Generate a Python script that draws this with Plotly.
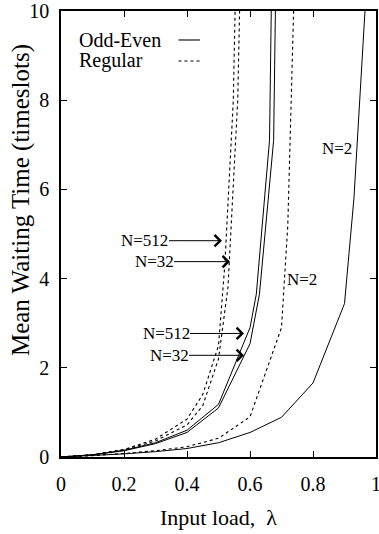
import plotly.graph_objects as go

# ---- data ----
lam_oe_2 = [0, 0.1, 0.2, 0.3, 0.4, 0.5, 0.6, 0.7, 0.8, 0.9, 0.93, 0.97]
wait_oe_2 = [0, 0.03, 0.07, 0.12, 0.19, 0.32, 0.55, 0.89, 1.66, 3.44, 5.8, 10.6]

lam_oe_32 = [0, 0.1, 0.2, 0.3, 0.4, 0.5, 0.6, 0.63, 0.675, 0.69]
wait_oe_32 = [0, 0.05, 0.14, 0.3, 0.55, 1.1, 2.54, 3.65, 7.1, 14.8]

lam_oe_512 = [0, 0.1, 0.2, 0.3, 0.4, 0.5, 0.6, 0.62, 0.662, 0.676]
wait_oe_512 = [0, 0.05, 0.15, 0.32, 0.6, 1.18, 2.9, 3.65, 7.1, 14.5]

lam_reg_2 = [0, 0.1, 0.2, 0.3, 0.4, 0.5, 0.6, 0.7, 0.72, 0.74]
wait_reg_2 = [0, 0.03, 0.08, 0.14, 0.23, 0.42, 0.9, 2.9, 5.2, 10.4]

lam_reg_32 = [0, 0.1, 0.2, 0.3, 0.4, 0.45, 0.5, 0.53, 0.561, 0.57]
wait_reg_32 = [0, 0.05, 0.16, 0.36, 0.72, 1.15, 2.2, 3.8, 8.0, 11.0]

lam_reg_512 = [0, 0.1, 0.2, 0.3, 0.4, 0.45, 0.5, 0.52, 0.547, 0.556]
wait_reg_512 = [0, 0.05, 0.17, 0.4, 0.85, 1.4, 2.5, 4.3, 8.0, 11.2]

x_ticks = [0, 0.2, 0.4, 0.6, 0.8, 1]
x_tick_labels = ["0", "0.2", "0.4", "0.6", "0.8", "1"]
y_ticks = [0, 2, 4, 6, 8, 10]
y_tick_labels = ["0", "2", "4", "6", "8", "10"]

legend_names = ["Odd-Even", "Regular"]

FONT = "Liberation Serif, Times New Roman, Times, serif"

fig = go.Figure()

solid = dict(color="black", width=1)
dotted = dict(color="black", width=1.1, dash="dot")

for lx, wy in [(lam_oe_2, wait_oe_2), (lam_oe_32, wait_oe_32), (lam_oe_512, wait_oe_512)]:
    fig.add_trace(go.Scatter(x=lx, y=wy, mode="lines", line=solid, showlegend=False))
for lx, wy in [(lam_reg_2, wait_reg_2), (lam_reg_32, wait_reg_32), (lam_reg_512, wait_reg_512)]:
    fig.add_trace(go.Scatter(x=lx, y=wy, mode="lines", line=dotted, showlegend=False))

# ---- arrow labels ----
arrow_labels = [
    ("N=512", 0.511, 4.85, -77),
    ("N=32", 0.5365, 4.38, -76),
    ("N=512", 0.581, 2.77, -78),
    ("N=32", 0.581, 2.28, -75),
]
for txt, x, y, ax in arrow_labels:
    fig.add_annotation(x=x, y=y, ax=ax, ay=0, xref="x", yref="y", text=txt,
                       showarrow=True, arrowhead=4, arrowsize=2.2, arrowwidth=1,
                       arrowcolor="black", font=dict(family=FONT, size=17, color="black"),
                       borderpad=0)

# plain N=2 labels
fig.add_annotation(x=0.876, y=6.92, text="N=2", showarrow=False,
                   font=dict(family=FONT, size=17, color="black"))
fig.add_annotation(x=0.764, y=3.98, text="N=2", showarrow=False,
                   font=dict(family=FONT, size=17, color="black"))

# ---- custom legend (text left, sample right) ----
leg_y = [0.935, 0.888]
for name, ly, dash in zip(legend_names, leg_y, ["solid", "dot"]):
    fig.add_annotation(x=0.051, y=ly, xref="paper", yref="paper", text=name,
                       showarrow=False, xanchor="left", yanchor="middle",
                       font=dict(family=FONT, size=20, color="black"))
    fig.add_shape(type="line", xref="paper", yref="paper", x0=0.373, x1=0.441,
                  y0=ly, y1=ly, line=dict(color="black", width=1.1, dash=dash))

# y-axis title placed as rotated text (sits above the axis centre as in reference)
fig.add_annotation(x=-0.127, y=0.576, xref="paper", yref="paper",
                   text="Mean Waiting Time (timeslots)", textangle=-90, showarrow=False,
                   xanchor="center", yanchor="middle",
                   font=dict(family=FONT, size=25, color="black"))

axis_common = dict(showline=True, linecolor="black", linewidth=1.5, mirror="allticks",
                   ticks="inside", ticklen=6, tickwidth=1, tickcolor="black",
                   showgrid=False, zeroline=False, ticklabeloverflow="allow",
                   tickfont=dict(family=FONT, size=20, color="black"))

fig.update_xaxes(range=[0, 1], tickvals=x_ticks, ticktext=x_tick_labels,
                 title=dict(text="Input load,\u00a0 λ", font=dict(family=FONT, size=22, color="black"),
                            standoff=16),
                 ticklabelstandoff=8, **axis_common)
fig.update_yaxes(range=[0, 10], tickvals=y_ticks, ticktext=y_tick_labels,
                 ticklabelstandoff=6, **axis_common)

fig.update_layout(width=379, height=534, margin=dict(l=61, r=3, t=11, b=77, autoexpand=False),
                  plot_bgcolor="white", paper_bgcolor="white", showlegend=False,
                  font=dict(family=FONT, color="black", size=20))

fig.write_html(
    "out.html",
    config={"displayModeBar": False},
    post_script=(
        "document.documentElement.style.overflow='hidden';"
        "document.body.style.overflow='hidden';"
        "document.body.style.margin='0px';"
        "document.body.style.padding='0px';"
    ),
)
